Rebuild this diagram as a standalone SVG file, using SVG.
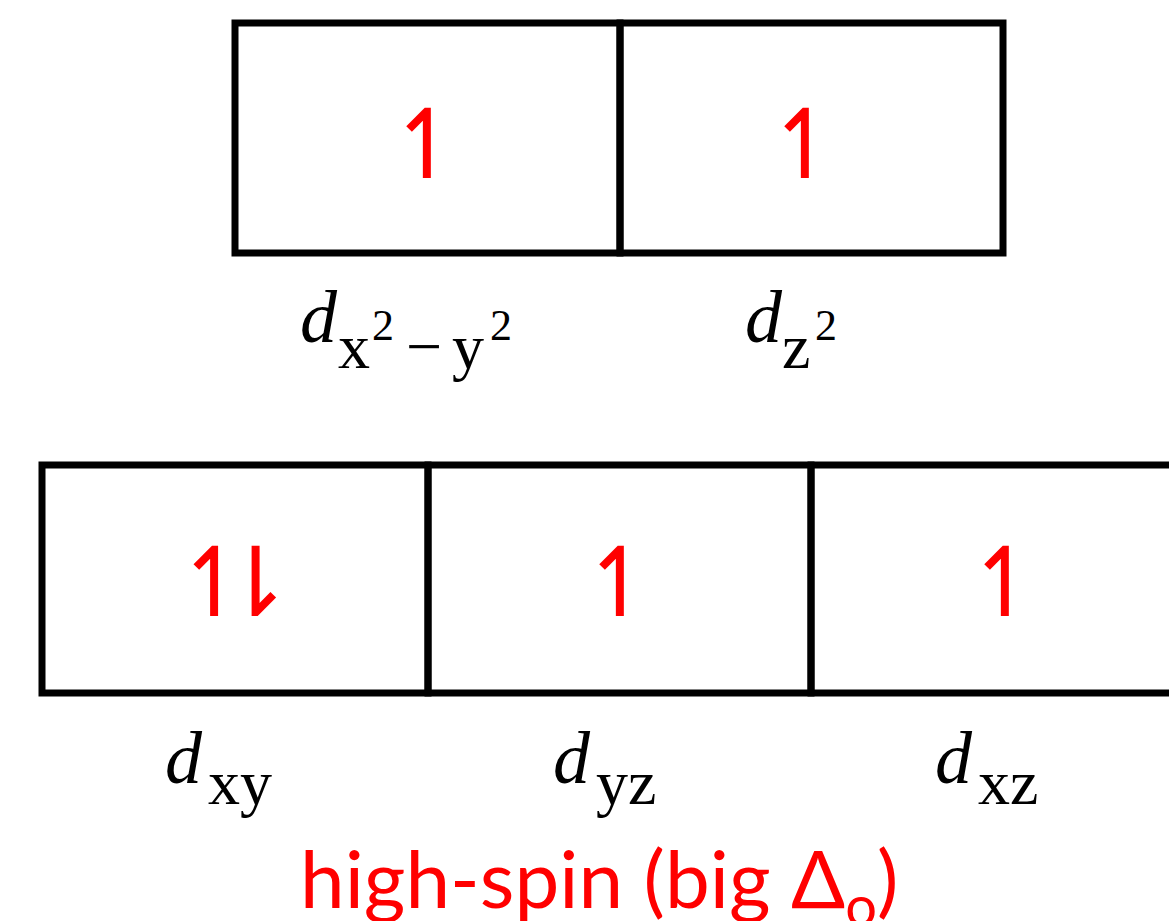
<svg xmlns="http://www.w3.org/2000/svg" width="1169" height="921" viewBox="0 0 1169 921">
<style>
.box{fill:none;stroke:#000;stroke-width:7}
.spin{font-family:"DejaVu Sans",sans-serif;font-size:96px;fill:#ff0000;text-anchor:middle}
.lbl{font-family:"Liberation Serif",serif;fill:#000}
.d{font-style:italic;font-size:74px}
.sub{font-size:64px}
.sup{font-size:44px}
.cap{font-family:Lato,"Open Sans",sans-serif;font-size:80px;fill:#ff0000}
</style>
<rect width="1169" height="921" fill="#fff"/>
<g id="eg">
<g id="dx2y2"><rect class="box" x="235" y="23" width="385" height="230"/><text class="spin" x="427" y="178">↿</text></g>
<g id="dz2"><rect class="box" x="620" y="23" width="383" height="230"/><text class="spin" x="805" y="178">↿</text></g>
</g>
<g id="t2g">
<g id="dxy"><rect class="box" x="42" y="465" width="386" height="228"/><text class="spin" x="174" y="616" style="text-anchor:start;letter-spacing:-39px">↿⇂</text></g>
<g id="dyz"><rect class="box" x="428" y="465" width="383" height="228"/><text class="spin" x="620" y="616">↿</text></g>
<g id="dxz"><rect class="box" x="811" y="465" width="400" height="228"/><text class="spin" x="1005" y="616">↿</text></g>
</g>
<g id="labels">
<text class="lbl" y="342"><tspan class="d" x="300">d</tspan><tspan class="sub" x="338" y="368">x</tspan><tspan class="sup" x="372" y="340">2</tspan><tspan class="sub" x="406" y="368">−</tspan><tspan class="sub" x="452" y="368">y</tspan><tspan class="sup" x="490" y="340">2</tspan></text>
<text class="lbl" y="342"><tspan class="d" x="745">d</tspan><tspan class="sub" x="782" y="368">z</tspan><tspan class="sup" x="815" y="340">2</tspan></text>
<text class="lbl" y="783"><tspan class="d" x="165">d</tspan><tspan class="sub" x="208" y="804">xy</tspan></text>
<text class="lbl" y="783"><tspan class="d" x="553">d</tspan><tspan class="sub" x="596" y="804">yz</tspan></text>
<text class="lbl" y="783"><tspan class="d" x="935">d</tspan><tspan class="sub" x="978" y="804">xz</tspan></text>
<text class="cap" x="300" y="908">high-spin (big Δ<tspan font-size="56" dy="18">o</tspan><tspan dy="-18">)</tspan></text>
</g>
</svg>
